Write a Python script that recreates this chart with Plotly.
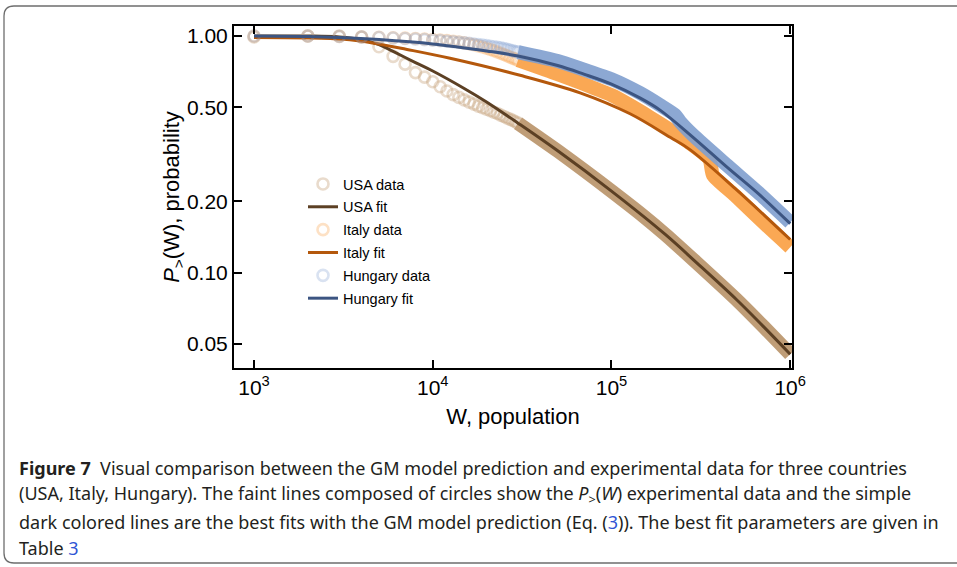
import plotly.graph_objects as go

# ---------------- data ----------------
# individual circles of the experimental P>(W) curves (W = 1000 .. 30000)
W_circles = [1000, 2000, 3000, 4000, 5000, 6000, 7000, 8000, 9000, 10000,
             11000, 12000, 13000, 14000, 15000, 16000, 17000, 18000, 19000, 20000,
             21000, 22000, 23000, 24000, 25000, 26000, 27000, 28000, 29000, 30000]
usa_circles = [0.99, 1.0, 1.0, 0.99, 0.90, 0.82, 0.76, 0.70, 0.67, 0.64,
               0.61, 0.585, 0.565, 0.55, 0.537, 0.525, 0.515, 0.505, 0.497, 0.49,
               0.483, 0.476, 0.47, 0.463, 0.457, 0.45, 0.445, 0.44, 0.434, 0.428]
italy_circles = [1.0, 1.0, 0.995, 0.99, 0.987, 0.983, 0.979, 0.975, 0.97, 0.965,
                 0.96, 0.955, 0.95, 0.943, 0.935, 0.927, 0.918, 0.908, 0.898, 0.888,
                 0.877, 0.866, 0.855, 0.845, 0.835, 0.825, 0.815, 0.806, 0.798, 0.79]
hungary_circles = [1.0, 1.0, 0.995, 0.99, 0.985, 0.98, 0.975, 0.97, 0.965, 0.96,
                   0.955, 0.95, 0.945, 0.94, 0.935, 0.93, 0.925, 0.92, 0.915, 0.91,
                   0.905, 0.90, 0.895, 0.89, 0.884, 0.878, 0.872, 0.866, 0.86, 0.855]

# dense part of the experimental curves (the circles merge into a solid band)
W_usa_band = [30000, 40000, 50000, 70000, 100000, 150000, 200000, 300000,
              500000, 700000, 1000000]
usa_band = [0.428, 0.368, 0.327, 0.271, 0.221, 0.174, 0.145, 0.110, 0.077, 0.0597, 0.0452]

W_italy_band = [30000, 50000, 70000, 100000, 164000, 275000, 353000, 370000,
                491000, 700000, 1000000]
italy_band = [0.791, 0.69, 0.626, 0.562, 0.454, 0.352, 0.301, 0.258,
              0.212, 0.164, 0.128]

W_hungary_band = [30000, 50000, 70000, 100000, 145000, 187000, 227000, 242000,
                  286000, 443000, 680000, 1000000]
hungary_band = [0.855, 0.784, 0.721, 0.657, 0.573, 0.51, 0.463, 0.434,
                0.381, 0.284, 0.214, 0.163]

# GM model fits
W_usa_fit = [1000, 2000, 3000, 4000, 5000, 6000, 8000, 10000, 15000, 20000, 30000,
             50000, 100000, 200000, 300000, 500000, 700000, 1000000]
usa_fit = [1.0, 0.999, 0.99, 0.965, 0.92, 0.86, 0.772, 0.711, 0.60, 0.526, 0.428,
           0.327, 0.221, 0.145, 0.110, 0.077, 0.0597, 0.0452]

W_italy_fit = [1000, 3190, 4690, 7180, 12500, 30800, 66700, 127000, 213000, 275000,
               491000, 1000000]
italy_fit = [0.985, 0.968, 0.932, 0.877, 0.805, 0.682, 0.575, 0.469, 0.373, 0.331,
             0.227, 0.138]

W_hungary_fit = [1000, 2000, 3000, 5000, 10000, 20000, 30000, 50000, 70000, 100000,
                 145000, 187000, 286000, 443000, 680000, 1000000]
hungary_fit = [1.0, 0.995, 0.985, 0.965, 0.925, 0.864, 0.823, 0.75, 0.69, 0.626,
               0.546, 0.486, 0.373, 0.279, 0.212, 0.161]

x_ticks = [1e3, 1e4, 1e5, 1e6]
x_ticktext = ["10<sup>3</sup>", "10<sup>4</sup>", "10<sup>5</sup>", "10<sup>6</sup>"]
y_ticks = [0.05, 0.1, 0.2, 0.5, 1.0]
y_ticktext = ["0.05", "0.10", "0.20", "0.50", "1.00"]

# ---------------- styles ----------------
C_USA_D, C_USA_B, C_USA_F = "rgba(196,160,122,0.38)", "rgba(188,152,112,0.95)", "#5c4024"
C_IT_D, C_IT_B, C_IT_F = "rgba(250,168,90,0.35)", "rgba(250,163,75,0.95)", "#b4580c"
C_HU_D, C_HU_B, C_HU_F = "rgba(140,168,212,0.33)", "rgba(128,158,206,0.9)", "#3c5582"

FONT = "Liberation Sans, Arial, sans-serif"
W_PX, H_PX = 957, 567
L, R, T, B = 234, 792, 26, 368

def px2x(px):
    return (px - L) / (R - L)

def px2y(py):
    return (B - py) / (B - T)

fig = go.Figure()

def add_series(name, Wc, Pc, Wb, Pb, Wf, Pf, cd, cb, cf, grp):
    fig.add_trace(go.Scatter(
        x=Wb, y=Pb, mode="lines", line=dict(color=cb, width=14, shape="spline", smoothing=0.6),
        showlegend=False, hoverinfo="skip", legendgroup=grp + "d"))
    fig.add_trace(go.Scatter(
        x=Wc, y=Pc, mode="markers", name=name + " data", legendgroup=grp + "d",
        marker=dict(symbol="circle-open", size=11, color=cd, line=dict(width=2.6, color=cd))))
    fig.add_trace(go.Scatter(
        x=Wf, y=Pf, mode="lines", name=name + " fit", legendgroup=grp + "f",
        line=dict(color=cf, width=3, shape="spline", smoothing=1.0)))

add_series("USA", W_circles, usa_circles, W_usa_band, usa_band, W_usa_fit, usa_fit,
           C_USA_D, C_USA_B, C_USA_F, "usa")
add_series("Italy", W_circles, italy_circles, W_italy_band, italy_band, W_italy_fit, italy_fit,
           C_IT_D, C_IT_B, C_IT_F, "it")
add_series("Hungary", W_circles, hungary_circles, W_hungary_band, hungary_band,
           W_hungary_fit, hungary_fit, C_HU_D, C_HU_B, C_HU_F, "hu")

axis_common = dict(
    type="log", showgrid=False, zeroline=False, showline=True, linewidth=2,
    linecolor="black", mirror="ticks", ticks="inside", ticklen=8, tickwidth=2,
    tickcolor="black", tickfont=dict(family=FONT, size=21, color="black"),
)

fig.update_xaxes(**axis_common, range=[2.888, 6.01], tickvals=x_ticks, ticktext=x_ticktext,
                 title=dict(text="W, population", font=dict(family=FONT, size=22, color="black"),
                            standoff=10))
fig.update_yaxes(**axis_common, range=[-1.403, 0.042], tickvals=y_ticks, ticktext=y_ticktext,
                 title=dict(text="<i>P</i><sub>></sub>(W), probability",
                            font=dict(family=FONT, size=22, color="black"), standoff=0))

# frame around figure + caption
frame = (f"M {px2x(970)} {px2y(6)} L {px2x(14)} {px2y(6)} "
         f"Q {px2x(4)} {px2y(6)} {px2x(4)} {px2y(16)} "
         f"L {px2x(4)} {px2y(553)} Q {px2x(4)} {px2y(563)} {px2x(14)} {px2y(563)} "
         f"L {px2x(970)} {px2y(563)}")
fig.add_shape(type="path", xref="paper", yref="paper", path=frame,
              line=dict(color="#6e6e6e", width=1.3), layer="below")

CAP_FONT = dict(family="Noto Sans, Open Sans, sans-serif", size=18, color="#231f20")
BLUE = "#2f55d4"
caption = [
    "<b>Figure 7</b>  Visual comparison between the GM model prediction and experimental data for three countries",
    "(USA, Italy, Hungary). The faint lines composed of circles show the <i>P</i><sub>></sub>(<i>W</i>) experimental data and the simple",
    f"dark colored lines are the best fits with the GM model prediction (Eq. (<span style='color:{BLUE}'>3</span>)). The best fit parameters are given in",
    f"Table <span style='color:{BLUE}'>3</span>",
]
cap_y = [468, 495, 522, 548]
for txt, yy in zip(caption, cap_y):
    fig.add_annotation(text=txt, xref="paper", yref="paper", x=px2x(17), y=px2y(yy),
                       xanchor="left", yanchor="middle", showarrow=False, font=CAP_FONT)

fig.update_layout(
    width=W_PX, height=H_PX,
    margin=dict(l=L, r=W_PX - R, t=T, b=H_PX - B),
    paper_bgcolor="white", plot_bgcolor="white",
    legend=dict(x=px2x(303), y=px2y(168), xanchor="left", yanchor="top",
                bgcolor="rgba(0,0,0,0)", font=dict(family=FONT, size=14.5, color="black"),
                tracegroupgap=1, traceorder="grouped"),
)

fig.write_html("out.html")
